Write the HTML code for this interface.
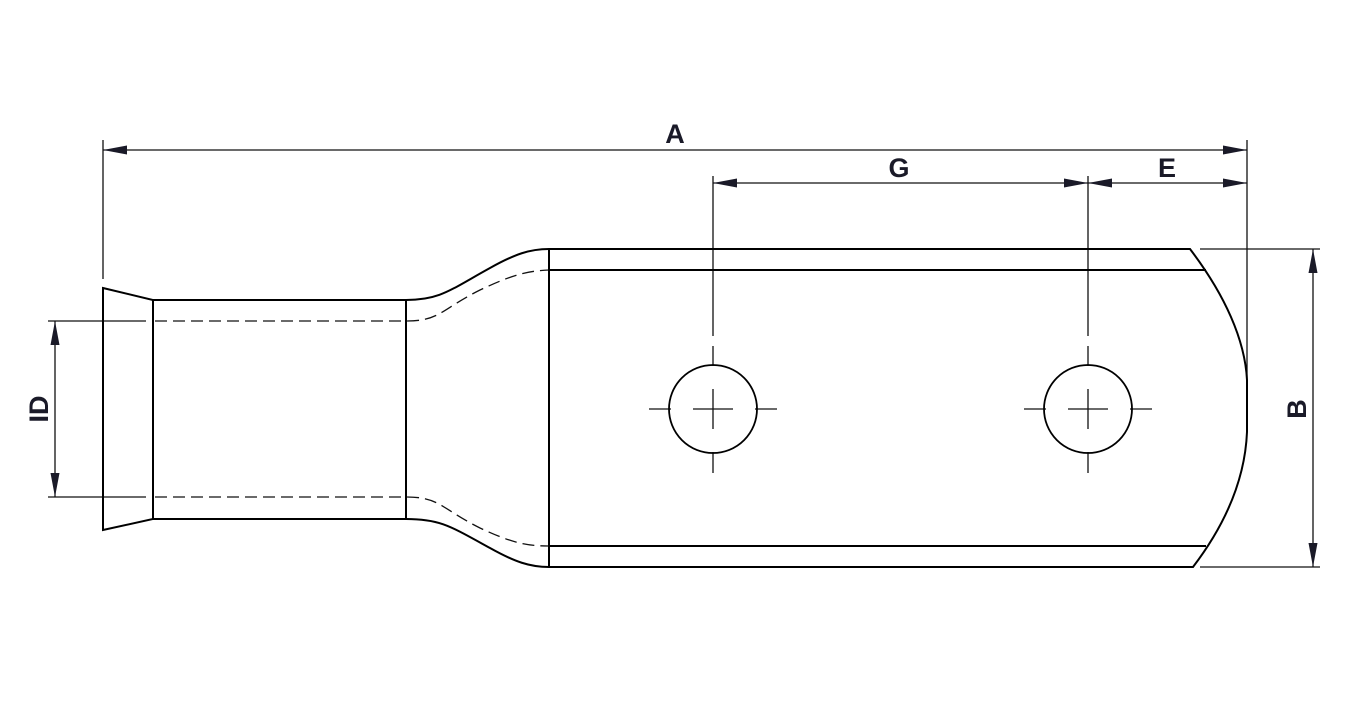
<!DOCTYPE html>
<html><head><style>html,body{margin:0;padding:0;background:#fff}svg{display:block}</style></head>
<body>
<svg width="1364" height="717" viewBox="0 0 1364 717" xmlns="http://www.w3.org/2000/svg">
<defs>
<marker id="ah" viewBox="0 0 24 10" refX="24" refY="5" markerWidth="24" markerHeight="10" markerUnits="userSpaceOnUse" orient="auto-start-reverse">
<polygon points="24,5 0,0.5 0,9.5" fill="#1a1a28"/>
</marker>
</defs>
<g stroke="#111" fill="none" stroke-width="1.3">
<line x1="103" y1="140" x2="103" y2="279"/>
<line x1="1247" y1="140" x2="1247" y2="380"/>
<line x1="713" y1="176" x2="713" y2="336"/>
<line x1="1088" y1="176" x2="1088" y2="336"/>
<line x1="1200" y1="249" x2="1320" y2="249"/>
<line x1="1200" y1="567" x2="1320" y2="567"/>
<line x1="48" y1="321" x2="146" y2="321"/>
<line x1="48" y1="497" x2="146" y2="497"/>
<line x1="103" y1="150" x2="1247" y2="150" marker-start="url(#ah)" marker-end="url(#ah)"/>
<line x1="713" y1="183" x2="1088" y2="183" marker-start="url(#ah)" marker-end="url(#ah)"/>
<line x1="1088" y1="183" x2="1247" y2="183" marker-start="url(#ah)" marker-end="url(#ah)"/>
<line x1="1313" y1="249" x2="1313" y2="567" marker-start="url(#ah)" marker-end="url(#ah)"/>
<line x1="55" y1="321" x2="55" y2="497" marker-start="url(#ah)" marker-end="url(#ah)"/>
<g>
<line x1="693" y1="409" x2="733" y2="409"/><line x1="713" y1="389" x2="713" y2="429"/>
<line x1="649" y1="409" x2="671" y2="409"/><line x1="755" y1="409" x2="777" y2="409"/>
<line x1="713" y1="346" x2="713" y2="366"/><line x1="713" y1="452" x2="713" y2="473"/>
<line x1="1068" y1="409" x2="1108" y2="409"/><line x1="1088" y1="389" x2="1088" y2="429"/>
<line x1="1024" y1="409" x2="1046" y2="409"/><line x1="1130" y1="409" x2="1152" y2="409"/>
<line x1="1088" y1="346" x2="1088" y2="366"/><line x1="1088" y1="452" x2="1088" y2="473"/>
</g>
<g stroke-dasharray="12,6">
<path d="M155 321 H406 C440 321 440 310 480 290 C510 276 525 271 549 270"/>
<path d="M155 497 H406 C440 497 440 508 480 528 C510 542 525 546 549 546"/>
</g>
</g>
<g stroke="#000" fill="none" stroke-width="2">
<path d="M103 288 L153 300 L153 519 L103 530 Z"/>
<rect x="153" y="300" width="253" height="219"/>
<path d="M406 300 C440 300 450 290 490 268 C515 254 530 249 549 249 H1190 C1225 295 1245 340 1247 380 V432 C1245 480 1225 525 1193 567 H549 C530 567 515 562 490 548 C450 526 440 519 406 519"/>
<line x1="549" y1="249" x2="549" y2="567"/>
<line x1="549" y1="270" x2="1206" y2="270"/>
<line x1="549" y1="546" x2="1206" y2="546"/>
<circle cx="713" cy="409" r="44" stroke-width="1.8"/>
<circle cx="1088" cy="409" r="44" stroke-width="1.8"/>
</g>
<g font-family="Liberation Sans, sans-serif" font-weight="bold" font-size="27" fill="#1a1a28" text-anchor="middle">
<text x="675" y="143">A</text>
<text x="899" y="177">G</text>
<text x="1167" y="177">E</text>
<text transform="translate(1306,409) rotate(-90)">B</text>
<text transform="translate(48,409) rotate(-90)">ID</text>
</g>
</svg>
</body></html>
